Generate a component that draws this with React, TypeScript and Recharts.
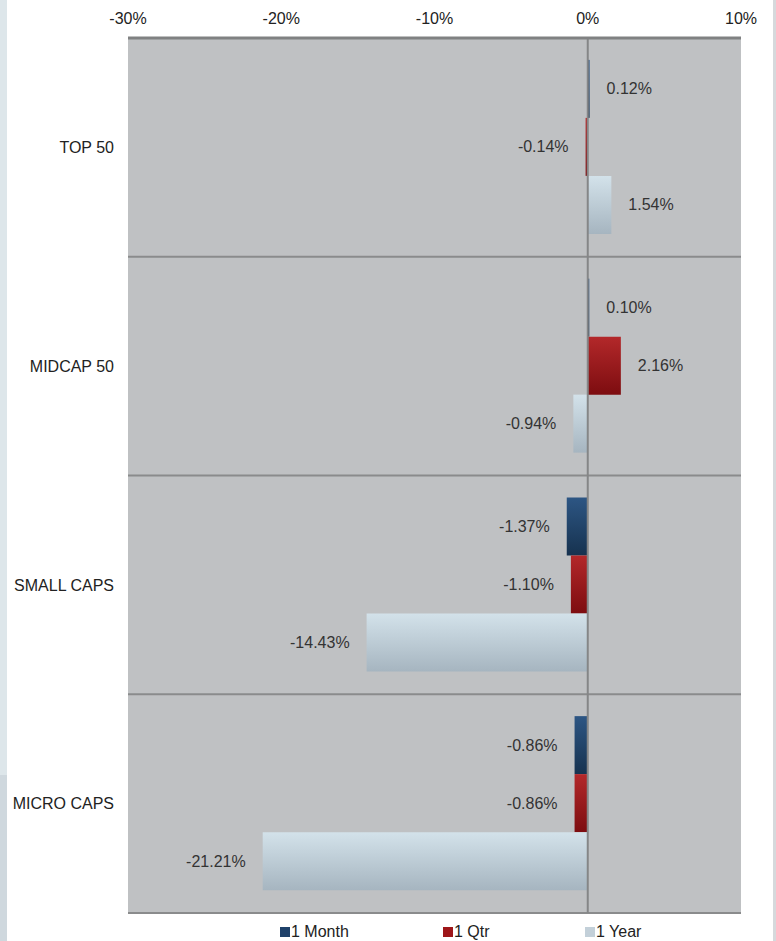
import React from 'react';
import { BarChart, Bar, XAxis, YAxis, CartesianGrid, ReferenceLine, LabelList } from 'recharts';

const categories = ['TOP 50', 'MIDCAP 50', 'SMALL CAPS', 'MICRO CAPS'];
const month = [0.12, 0.1, -1.37, -0.86];
const qtr = [-0.14, 2.16, -1.1, -0.86];
const year = [1.54, -0.94, -14.43, -21.21];
const xTicks = [-30, -20, -10, 0, 10];

const series = [
  { key: 'month', name: '1 Month', values: month, top: '#2d5684', bottom: '#16324f', swatch: '#1f416a' },
  { key: 'qtr', name: '1 Qtr', values: qtr, top: '#b3282a', bottom: '#7d0d10', swatch: '#9e1619' },
  { key: 'year', name: '1 Year', values: year, top: '#d3e2ea', bottom: '#a6b5c0', swatch: '#c3d0d9' },
];

const data = categories.map((c, i) => ({
  name: c,
  month: month[i],
  qtr: qtr[i],
  year: year[i],
}));

const font = '"Liberation Sans", Arial, sans-serif';

const ValueLabel = (props: any) => {
  const { x, y, width, height, value } = props;
  const left = Math.min(x, x + width);
  const right = Math.max(x, x + width);
  const pos = value >= 0;
  return (
    <text
      x={pos ? right + 17 : left - 17}
      y={y + height / 2}
      textAnchor={pos ? 'start' : 'end'}
      dominantBaseline="central"
      fontSize={16}
      fill="#333"
      fontFamily={font}
    >
      {value.toFixed(2) + '%'}
    </text>
  );
};

const App: React.FC = () => {
  return (
    <div style={{ position: 'absolute', left: 0, top: 0, width: 776, height: 941, background: '#fff', fontFamily: font }}>
      <div style={{ position: 'absolute', left: 0, top: 0, width: 7, height: 775, background: '#dde6ea' }} />
      <div style={{ position: 'absolute', left: 0, top: 775, width: 7, height: 166, background: '#cfd8de' }} />
      <div style={{ position: 'absolute', left: 773, top: 0, width: 3, height: 941, background: '#d6d9dc' }} />
      <BarChart
        width={776}
        height={941}
        data={data}
        layout="vertical"
        margin={{ top: 8, right: 35, left: 0, bottom: 28 }}
        barCategoryGap="10%"
        barGap={0}
      >
        <defs>
          {series.map((s) => (
            <linearGradient key={s.key} id={'g-' + s.key} x1="0" y1="0" x2="0" y2="1">
              <stop offset="0%" stopColor={s.top} />
              <stop offset="100%" stopColor={s.bottom} />
            </linearGradient>
          ))}
        </defs>
        <CartesianGrid
          fill="#bfc1c3"
          vertical={false}
          stroke="#8a8b8c"
          strokeWidth={2}
          horizontalCoordinatesGenerator={({ offset }: any) =>
            categories.map((_, i) => offset.top + ((i + 1) * offset.height) / categories.length)
          }
        />
        <XAxis
          type="number"
          orientation="top"
          domain={[-30, 10]}
          ticks={xTicks}
          tickFormatter={(v: number) => v + '%'}
          height={30}
          axisLine={{ stroke: '#808182', strokeWidth: 3 }}
          tickLine={false}
          tickSize={0}
          tickMargin={14}
          tick={{ fontSize: 16, fill: '#222', fontFamily: font }}
        />
        <YAxis
          type="category"
          dataKey="name"
          width={128}
          axisLine={false}
          tickLine={false}
          tickSize={0}
          tickMargin={14}
          tick={{ fontSize: 16, fill: '#222', fontFamily: font }}
        />
        <ReferenceLine x={0} stroke="#858687" strokeWidth={2} />
        {series.map((s) => (
          <Bar key={s.key} dataKey={s.key} name={s.name} fill={`url(#g-${s.key})`} isAnimationActive={false}>
            <LabelList dataKey={s.key} content={ValueLabel} />
          </Bar>
        ))}
      </BarChart>
      {series.map((s, i) => (
        <div
          key={s.key}
          style={{
            position: 'absolute',
            left: [280, 443, 585][i],
            top: 923,
            display: 'flex',
            alignItems: 'center',
            fontSize: 16,
            color: '#222',
            lineHeight: '18px',
          }}
        >
          <span style={{ display: 'inline-block', width: 10, height: 10, background: s.swatch, marginRight: 1 }} />
          {s.name}
        </div>
      ))}
    </div>
  );
};

export default App;
